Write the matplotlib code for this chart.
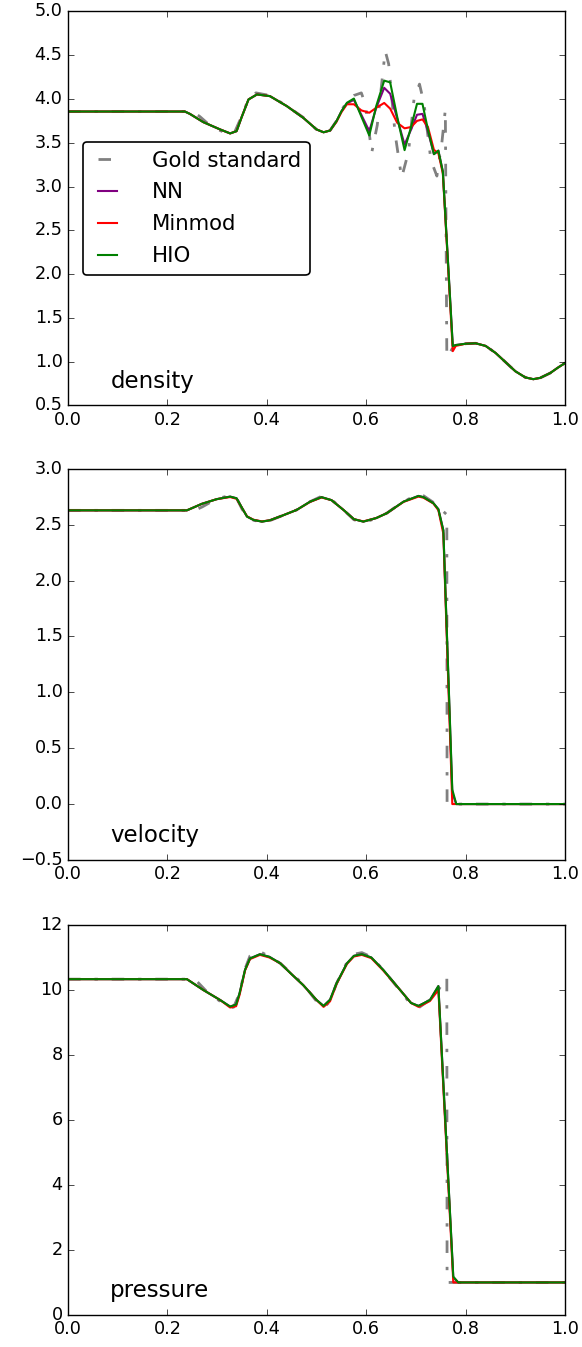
import matplotlib
matplotlib.use("Agg")
import matplotlib.pyplot as plt

plt.style.use("classic")

# ---- density ----
dens_x = [0.0, 0.235, 0.245, 0.272, 0.306, 0.326, 0.339, 0.349, 0.363, 0.38,
          0.406, 0.44, 0.473, 0.50, 0.514, 0.527, 0.54, 0.55, 0.561, 0.575,
          0.59, 0.606, 0.62, 0.636, 0.648, 0.662, 0.677, 0.69, 0.702, 0.713,
          0.724, 0.736, 0.745, 0.754, 0.774, 0.78, 0.80, 0.82, 0.84, 0.86,
          0.88, 0.90, 0.92, 0.936, 0.95, 0.97, 0.985, 1.0]
dens_hio = [3.857, 3.857, 3.83, 3.736, 3.652, 3.607, 3.633, 3.79, 3.995, 4.052,
            4.033, 3.919, 3.786, 3.652, 3.62, 3.64, 3.747, 3.86, 3.957, 4.005,
            3.80, 3.584, 3.92, 4.21, 4.19, 3.80, 3.416, 3.68, 3.945, 3.945,
            3.65, 3.37, 3.41, 3.17, 1.178, 1.19, 1.205, 1.21, 1.18, 1.10,
            0.995, 0.89, 0.82, 0.80, 0.815, 0.87, 0.93, 0.985]
dens_nn = [3.857, 3.857, 3.83, 3.736, 3.652, 3.607, 3.633, 3.79, 3.995, 4.052,
           4.033, 3.919, 3.786, 3.652, 3.62, 3.64, 3.747, 3.86, 3.95, 3.99,
           3.82, 3.633, 3.90, 4.128, 4.06, 3.78, 3.48, 3.65, 3.82, 3.83,
           3.63, 3.37, 3.41, 3.17, 1.178, 1.19, 1.205, 1.21, 1.18, 1.10,
           0.995, 0.89, 0.82, 0.80, 0.815, 0.87, 0.93, 0.985]
dens_minmod = [3.857, 3.857, 3.83, 3.736, 3.652, 3.607, 3.633, 3.79, 3.995, 4.052,
               4.033, 3.919, 3.786, 3.652, 3.62, 3.64, 3.74, 3.85, 3.94, 3.94,
               3.87, 3.843, 3.90, 3.955, 3.89, 3.73, 3.665, 3.68, 3.75, 3.767,
               3.68, 3.42, 3.38, 3.15, 1.12, 1.18, 1.205, 1.21, 1.18, 1.10,
               0.995, 0.89, 0.82, 0.80, 0.815, 0.87, 0.93, 0.985]
dens_gold_x = [0.0, 0.25, 0.265, 0.283, 0.306, 0.322, 0.335, 0.349, 0.363, 0.378,
               0.406, 0.44, 0.473, 0.50, 0.514, 0.527, 0.54, 0.55, 0.561, 0.575,
               0.59, 0.598, 0.611, 0.622, 0.638, 0.645, 0.658, 0.671, 0.685, 0.696,
               0.707, 0.716, 0.73, 0.742, 0.752, 0.759, 0.762, 0.768, 0.776, 0.80,
               0.82, 0.84, 0.86, 0.88, 0.90, 0.92, 0.936, 0.95, 0.97, 0.985, 1.0]
dens_gold = [3.857, 3.857, 3.80, 3.71, 3.64, 3.60, 3.62, 3.80, 4.00, 4.07,
             4.04, 3.92, 3.79, 3.65, 3.61, 3.64, 3.75, 3.87, 3.97, 4.04,
             4.07, 3.94, 3.39, 3.70, 4.55, 4.40, 3.60, 3.10, 3.40, 4.00,
             4.17, 3.95, 3.30, 3.12, 3.50, 3.88, 1.05, 1.10, 1.18, 1.205,
             1.21, 1.18, 1.10, 0.995, 0.89, 0.82, 0.80, 0.815, 0.87, 0.93, 0.985]

# ---- velocity ----
vel_x = [0.0, 0.239, 0.25, 0.269, 0.299, 0.326, 0.339, 0.35, 0.36, 0.373,
         0.39, 0.406, 0.43, 0.46, 0.487, 0.51, 0.53, 0.554, 0.575, 0.594,
         0.62, 0.641, 0.675, 0.705, 0.715, 0.735, 0.745, 0.755, 0.773, 0.781, 1.0]
vel_hio = [2.629, 2.629, 2.65, 2.687, 2.729, 2.752, 2.737, 2.65, 2.573, 2.543,
           2.528, 2.54, 2.58, 2.633, 2.707, 2.747, 2.72, 2.633, 2.55, 2.528,
           2.56, 2.603, 2.707, 2.758, 2.747, 2.693, 2.639, 2.45, 0.13, 0.0, 0.0]
vel_nn = [2.629, 2.629, 2.65, 2.687, 2.729, 2.752, 2.737, 2.65, 2.573, 2.543,
          2.528, 2.54, 2.58, 2.633, 2.707, 2.747, 2.72, 2.633, 2.55, 2.528,
          2.56, 2.603, 2.707, 2.758, 2.747, 2.693, 2.639, 2.45, 0.10, 0.0, 0.0]
vel_minmod = [2.629, 2.629, 2.65, 2.687, 2.729, 2.748, 2.732, 2.65, 2.575, 2.545,
              2.53, 2.54, 2.58, 2.633, 2.705, 2.744, 2.72, 2.633, 2.55, 2.53,
              2.56, 2.603, 2.705, 2.752, 2.742, 2.69, 2.63, 2.42, 0.0, 0.0, 0.0]
vel_gold_x = [0.0, 0.255, 0.27, 0.29, 0.31, 0.33, 0.34, 0.35, 0.36, 0.373,
              0.39, 0.406, 0.43, 0.46, 0.487, 0.51, 0.53, 0.554, 0.575, 0.594,
              0.62, 0.641, 0.675, 0.705, 0.715, 0.735, 0.745, 0.762, 0.7625, 1.0]
vel_gold = [2.629, 2.629, 2.66, 2.71, 2.745, 2.765, 2.73, 2.64, 2.573, 2.54,
            2.525, 2.537, 2.58, 2.633, 2.707, 2.755, 2.725, 2.633, 2.545, 2.52,
            2.557, 2.603, 2.71, 2.77, 2.76, 2.70, 2.66, 2.59, 0.0, 0.0]

# ---- pressure ----
pres_x = [0.0, 0.239, 0.272, 0.306, 0.326, 0.338, 0.345, 0.356, 0.366, 0.386,
          0.405, 0.427, 0.45, 0.473, 0.50, 0.514, 0.527, 0.54, 0.561, 0.575,
          0.591, 0.61, 0.634, 0.668, 0.69, 0.705, 0.728, 0.745, 0.775, 0.785, 1.0]
pres_hio = [10.333, 10.333, 10.0, 9.69, 9.49, 9.55, 9.9, 10.62, 10.97, 11.1,
            11.02, 10.82, 10.48, 10.15, 9.69, 9.51, 9.7, 10.2, 10.82, 11.05,
            11.1, 11.0, 10.62, 10.0, 9.6, 9.51, 9.69, 10.12, 1.18, 1.0, 1.0]
pres_nn = [10.333, 10.333, 10.0, 9.69, 9.49, 9.55, 9.9, 10.62, 10.97, 11.1,
           11.02, 10.82, 10.48, 10.15, 9.69, 9.51, 9.7, 10.2, 10.82, 11.05,
           11.1, 11.0, 10.62, 10.0, 9.6, 9.51, 9.69, 10.12, 1.15, 1.0, 1.0]
pres_minmod = [10.333, 10.333, 10.0, 9.69, 9.46, 9.5, 9.85, 10.6, 10.95, 11.08,
               11.0, 10.82, 10.48, 10.15, 9.69, 9.48, 9.65, 10.18, 10.8, 11.03,
               11.08, 10.98, 10.6, 10.0, 9.6, 9.48, 9.66, 10.0, 1.0, 1.0, 1.0]
pres_gold_x = [0.0, 0.255, 0.279, 0.306, 0.322, 0.333, 0.345, 0.356, 0.366, 0.378,
               0.39, 0.405, 0.427, 0.473, 0.50, 0.514, 0.527, 0.54, 0.561, 0.575,
               0.591, 0.61, 0.634, 0.668, 0.69, 0.705, 0.728, 0.745, 0.762, 0.7625, 1.0]
pres_gold = [10.333, 10.333, 9.95, 9.65, 9.45, 9.47, 9.9, 10.65, 11.05, 11.2,
             11.15, 11.03, 10.82, 10.18, 9.65, 9.45, 9.65, 10.2, 10.85, 11.1,
             11.15, 11.02, 10.62, 9.98, 9.55, 9.45, 9.7, 10.0, 10.4, 1.0, 1.0]

panels = [
    ("density", dens_x, dens_nn, dens_minmod, dens_hio, dens_gold_x, dens_gold,
     (0.5, 5.0), [0.5 * i for i in range(1, 11)]),
    ("velocity", vel_x, vel_nn, vel_minmod, vel_hio, vel_gold_x, vel_gold,
     (-0.5, 3.0), [-0.5 + 0.5 * i for i in range(8)]),
    ("pressure", pres_x, pres_nn, pres_minmod, pres_hio, pres_gold_x, pres_gold,
     (0, 12), [0, 2, 4, 6, 8, 10, 12]),
]

# axes rectangles in figure fractions
rects = [
    [0.117, 0.699, 0.854, 0.2925],
    [0.117, 0.3616, 0.854, 0.2903],
    [0.117, 0.0238, 0.854, 0.2895],
]

fig = plt.figure(figsize=(5.82, 13.47), dpi=100)

for rect, (name, x, nn, mm, hio, gx, gold, ylim, yticks) in zip(rects, panels):
    ax = fig.add_axes(rect)
    ax.plot(gx, gold, color="0.5", lw=2, dashes=(9, 10, 2.4, 10),
            label="Gold standard")
    ax.plot(x, nn, color="purple", lw=1.5, label="NN")
    ax.plot(x, mm, color="red", lw=1.5, label="Minmod")
    ax.plot(x, hio, color="green", lw=1.5, label="HIO")
    ax.set_xlim(0, 1)
    ax.set_ylim(*ylim)
    ax.set_xticks([0.0, 0.2, 0.4, 0.6, 0.8, 1.0])
    ax.set_yticks(yticks)
    ax.tick_params(labelsize=12.7)
    ax.text(0.085, 0.045, name, transform=ax.transAxes, fontsize=16.5,
            va="baseline")
    if name == "density":
        leg = ax.legend(loc="center left", fontsize=15.3, fancybox=True,
                        handlelength=1.5, handletextpad=1.35,
                        labelspacing=0.56, borderaxespad=0.7)
        leg.get_frame().set_linewidth(1.2)

fig.savefig("out.png", dpi=100, facecolor="white")
